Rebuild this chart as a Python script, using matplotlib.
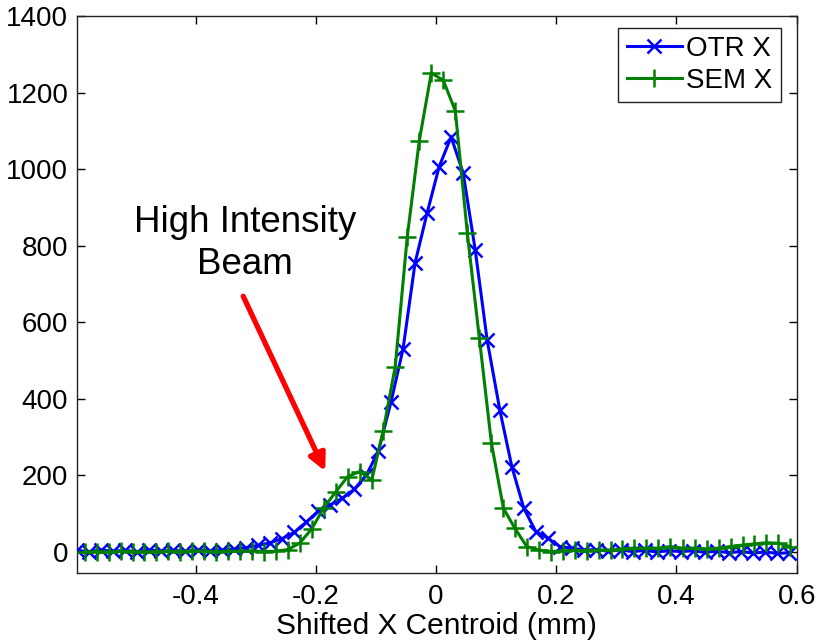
import matplotlib
matplotlib.use("Agg")
import matplotlib.pyplot as plt

plt.rcParams['font.family'] = ['Liberation Sans', 'DejaVu Sans']

# OTR X profile
otr_x = [-0.598, -0.578, -0.558, -0.538, -0.518, -0.498, -0.477, -0.457, -0.437, -0.417,
         -0.397, -0.377, -0.357, -0.337, -0.317, -0.297, -0.276, -0.256, -0.236, -0.216,
         -0.196, -0.176, -0.156, -0.136, -0.116, -0.096, -0.075, -0.055, -0.035, -0.015,
         0.005, 0.025, 0.045, 0.065, 0.085, 0.106, 0.126, 0.146, 0.166, 0.186,
         0.206, 0.226, 0.246, 0.266, 0.286, 0.307, 0.327, 0.347, 0.367, 0.387,
         0.407, 0.427, 0.447, 0.467, 0.487, 0.508, 0.528, 0.548, 0.568, 0.588]
otr_y = [4, 1, 5, 2, 4, 1, 5, 2, 4, 2,
         5, 3, 5, 7, 11, 17, 24, 35, 51, 78,
         107, 123, 140, 164, 201, 263, 392, 530, 755, 885,
         1006, 1084, 990, 790, 553, 371, 223, 114, 53, 36,
         14, 10, 5, 6, 2, 5, 1, 4, 0, 3,
         1, 3, -1, 2, -2, 1, -3, 0, -4, -2]

# SEM X profile
sem_x = [-0.585, -0.565, -0.545, -0.525, -0.505, -0.486, -0.466, -0.446, -0.426, -0.406,
         -0.386, -0.366, -0.346, -0.326, -0.306, -0.287, -0.267, -0.247, -0.227, -0.207,
         -0.187, -0.167, -0.147, -0.127, -0.107, -0.088, -0.068, -0.048, -0.028, -0.008,
         0.012, 0.032, 0.052, 0.072, 0.092, 0.112, 0.131, 0.151, 0.171, 0.191,
         0.211, 0.231, 0.251, 0.271, 0.291, 0.310, 0.330, 0.350, 0.370, 0.390,
         0.410, 0.430, 0.450, 0.470, 0.490, 0.510, 0.529, 0.549, 0.569, 0.589]
sem_y = [0, 1, 0, 2, 1, 0, 1, 2, 1, 3,
         2, 1, 2, 2, 3, 1, 2, 6, 23, 60,
         115, 157, 197, 210, 188, 317, 484, 823, 1074, 1251,
         1232, 1152, 832, 558, 285, 114, 62, 14, 5, 1,
         3, 4, 3, 5, 5, 8, 10, 10, 10, 14,
         10, 10, 8, 10, 14, 18, 21, 24, 23, 14]

series_labels = ["OTR X", "SEM X"]
x_ticks = [-0.4, -0.2, 0, 0.2, 0.4, 0.6]
x_ticklabels = ["-0.4", "-0.2", "0", "0.2", "0.4", "0.6"]
y_ticks = [0, 200, 400, 600, 800, 1000, 1200, 1400]
x_label = "Shifted X Centroid (mm)"
annot_text = "High Intensity\nBeam"

W, H = 817, 644
fig = plt.figure(figsize=(W / 100, H / 100), dpi=100)
ax = fig.add_axes([76.7 / W, 1 - 573 / H, (796.7 - 76.7) / W, (573 - 16) / H])

ax.plot(otr_x, otr_y, color=(0, 0, 1), lw=2.2, marker='x', markersize=9.5,
        markeredgewidth=1.8, label=series_labels[0], zorder=3)
ax.plot(sem_x, sem_y, color=(0, 0.5, 0), lw=2.2, marker='+', markersize=13,
        markeredgewidth=1.8, label=series_labels[1], zorder=3)

ax.set_xlim(-0.598, 0.6)
ax.set_ylim(-55, 1400)
ax.set_xticks(x_ticks)
ax.set_xticklabels(x_ticklabels)
ax.set_yticks(y_ticks)
ax.tick_params(direction='in', length=6, width=1, top=True, right=True,
               labelsize=20, colors='black')
ax.tick_params(axis='x', pad=8)
ax.tick_params(axis='y', pad=6)
for s in ax.spines.values():
    s.set_linewidth(1.0)
    s.set_color('#222222')
ax.set_xlabel(x_label, fontsize=21.5, labelpad=1)

leg = ax.legend(loc='upper right', bbox_to_anchor=(781 / W, 1 - 27.7 / H),
                bbox_transform=fig.transFigure, borderaxespad=0, fontsize=20,
                fancybox=False, framealpha=1, edgecolor='#222222',
                handlelength=2.0, handletextpad=0.15, borderpad=0.3,
                labelspacing=0.2)
leg.get_frame().set_linewidth(1.0)

ax.text(-0.318, 805, annot_text, fontsize=26.5, ha='center', va='center',
        linespacing=1.25)
ax.annotate("", xy=(-0.1845, 211), xytext=(-0.321, 668),
            arrowprops=dict(arrowstyle='-|>,head_length=1.0,head_width=0.5',
                            color='red', lw=3.8, shrinkA=0, shrinkB=0))

fig.savefig("out.png", dpi=100)
